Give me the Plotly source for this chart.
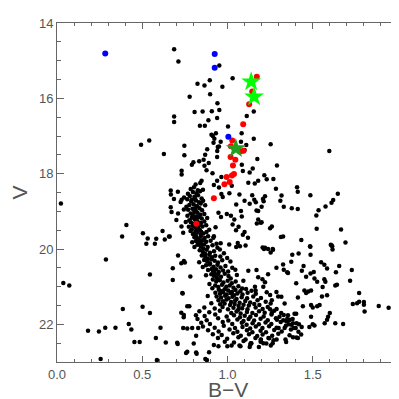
import plotly.graph_objects as go

# upper / scattered stars (giant branch region and field)
upper = [(0.687, 14.70), (0.712, 15.02), (0.952, 15.13), (1.03, 15.47), (0.896, 15.52), (0.824, 15.61),
         (0.865, 15.66), (0.97, 15.69), (0.898, 15.89), (0.778, 15.96), (0.941, 16.13), (1.113, 16.47),
         (1.154, 16.35), (0.854, 16.35), (0.908, 16.34), (0.952, 16.31), (0.807, 16.36), (0.687, 16.48),
         (0.687, 16.63), (0.888, 16.58), (0.939, 16.52), (0.838, 16.73), (0.867, 16.73), (1.003, 16.75),
         (0.932, 16.93), (0.906, 16.97), (0.914, 17.0), (1.154, 17.07), (1.079, 17.15), (0.923, 17.07),
         (0.541, 17.12), (0.493, 17.23), (1.253, 17.22), (0.747, 17.26), (0.881, 17.35), (0.918, 17.18),
         (0.943, 17.29), (0.627, 17.48), (0.747, 17.51), (0.939, 17.56), (0.869, 17.50), (1.597, 17.40),
         (1.175, 17.61), (0.834, 17.67), (0.791, 17.76), (0.865, 17.79), (0.731, 17.92), (0.731, 18.02),
         (1.148, 17.86), (1.29, 17.78), (1.09, 17.93), (1.216, 18.04), (0.877, 17.91), (0.912, 17.99),
         (1.084, 17.76), (0.848, 18.19), (0.939, 18.19), (1.16, 18.26), (1.269, 18.14), (0.964, 18.09),
         (0.813, 18.29), (1.408, 18.36), (1.412, 18.48), (1.284, 18.40), (1.486, 18.57), (1.647, 18.53),
         (1.317, 18.58), (0.964, 18.54), (1.011, 18.52), (1.145, 18.57), (1.157, 18.69), (1.166, 18.76),
         (1.208, 18.67), (1.212, 18.73), (1.051, 18.82), (0.972, 18.62), (1.62, 18.70), (1.61, 18.77),
         (1.575, 18.87), (1.377, 18.92), (1.412, 18.94), (1.534, 18.97), (1.521, 19.11), (1.18, 18.99),
         (1.079, 18.99), (0.023, 18.79), (0.947, 19.04), (0.996, 19.07), (0.962, 19.15), (1.084, 19.14),
         (1.195, 19.30), (1.172, 19.32), (1.065, 19.41), (1.523, 19.46), (1.666, 19.48), (0.407, 19.36),
         (0.504, 19.58), (0.619, 19.52), (0.382, 19.67), (0.532, 19.72), (0.582, 19.73), (0.632, 19.75),
         (0.661, 19.67), (0.524, 19.86), (0.574, 19.86), (1.313, 19.68), (1.433, 19.76), (1.692, 19.83),
         (1.606, 19.89), (1.614, 19.93), (1.486, 19.94), (1.206, 19.96), (1.214, 20.0), (1.265, 20.0),
         (1.253, 20.09), (1.051, 19.95), (1.106, 19.91),
         (1.083, 16.93), (1.11, 17.24), (1.10, 17.37), (0.96, 17.15), (0.95, 17.28), (0.94, 17.40),
         (0.80, 17.70), (0.86, 17.63), (0.89, 17.72), (0.84, 18.25), (0.95, 18.37), (0.92, 18.30),
         (0.667, 18.45), (0.686, 18.67), (1.122, 18.24), (1.13, 17.97), (1.18, 18.19), (1.23, 18.15),
         (1.025, 18.32), (1.07, 18.55), (1.10, 18.72), (1.13, 18.80), (1.17, 18.98), (1.20, 18.88),
         (1.22, 18.60), (1.31, 18.72), (1.33, 18.88), (1.18, 19.22), (1.20, 19.29), (1.25, 19.45),
         (1.26, 19.40), (1.326, 19.67), (1.02, 19.12), (1.04, 19.22), (1.03, 19.35), (1.05, 19.50),
         (1.10, 19.55), (1.09, 19.62), (1.12, 19.70), (1.06, 19.84), (1.01, 19.88), (0.93, 19.42),
         (0.92, 19.66), (0.96, 19.85), (0.667, 18.89), (0.672, 19.02), (0.71, 19.06), (0.70, 19.23),
         (0.73, 19.40), (0.74, 19.57), (0.657, 19.67), (0.725, 18.75)]

lower = [(0.287, 20.28), (0.71, 20.17), (0.729, 20.38), (0.679, 20.51), (0.679, 20.82), (0.545, 20.68),
         (0.037, 20.90), (0.072, 20.97), (0.782, 20.73), (0.744, 20.32), (0.75, 20.36), (0.735, 21.17),
         (0.764, 21.52), (0.729, 21.69), (0.744, 21.75), (0.386, 21.59), (0.502, 21.53), (0.545, 21.70),
         (0.737, 21.18), (0.776, 21.52), (0.182, 22.17), (0.246, 22.19), (0.283, 22.09), (0.343, 22.09),
         (0.421, 21.99), (0.436, 22.14), (0.454, 22.47), (0.485, 22.47), (0.580, 22.36), (0.607, 22.09),
         (0.638, 22.48), (0.708, 22.52), (0.256, 22.92), (0.586, 22.95), (0.757, 22.76), (0.819, 22.78),
         (0.879, 22.95), (0.892, 22.74), (0.743, 21.81), (0.74, 22.10), (0.764, 22.11), (0.793, 22.10),
         (0.816, 22.30), (0.705, 22.49), (0.802, 22.51), (0.764, 22.73), (0.816, 22.75), (0.87, 22.92),
         (0.92, 22.55), (0.947, 22.58), (0.999, 22.58), (1.07, 22.56), (0.828, 22.10),
         (1.073, 19.93), (1.22, 19.97), (1.238, 20.0), (1.267, 20.02), (1.287, 20.5), (1.33, 20.55),
         (1.35, 20.62), (1.17, 20.56), (1.18, 20.75), (1.122, 20.58), (1.205, 20.8), (1.22, 20.88),
         (1.238, 20.67), (1.161, 21.0), (1.165, 21.1), (1.21, 21.0), (1.23, 21.15), (1.25, 21.22),
         (1.26, 21.36), (1.287, 21.14), (1.297, 21.26), (1.316, 21.27), (1.335, 21.45), (1.25, 21.6),
         (1.26, 21.7), (1.29, 21.88), (1.345, 21.92), (1.335, 22.1), (1.30, 22.1), (1.24, 22.36),
         (1.27, 22.42), (1.265, 22.5), (1.13, 22.6), (1.14, 22.5), (1.195, 22.4), (1.21, 22.5),
         (1.484, 19.93), (1.611, 19.91), (1.616, 20.01), (1.38, 20.15), (1.417, 20.12), (1.487, 20.15),
         (1.374, 20.34), (1.355, 20.64), (1.326, 20.41), (1.549, 20.35), (1.568, 20.42), (1.446, 20.45),
         (1.436, 20.58), (1.461, 20.74), (1.487, 20.65), (1.506, 20.61), (1.51, 20.78), (1.526, 20.87),
         (1.568, 20.80), (1.574, 20.87), (1.584, 20.52), (1.636, 20.62), (1.655, 20.45), (1.642, 20.95),
         (1.632, 20.97), (1.558, 21.01), (1.403, 20.91), (1.451, 21.10), (1.461, 21.17), (1.474, 21.13),
         (1.490, 21.10), (1.413, 21.29), (1.442, 21.52), (1.49, 21.49), (1.50, 21.55), (1.526, 21.52),
         (1.54, 21.49), (1.554, 21.26), (1.584, 21.23), (1.719, 20.84), (1.729, 20.56), (1.772, 21.17),
         (1.76, 21.44), (1.772, 21.40), (1.80, 21.41), (1.80, 21.48), (1.735, 21.46), (1.804, 21.66),
         (1.887, 21.51), (1.945, 21.56), (1.393, 21.72), (1.403, 21.72), (1.33, 21.75), (1.35, 21.86),
         (1.36, 21.89), (1.365, 21.88), (1.384, 21.97), (1.419, 22.0), (1.40, 22.1), (1.375, 22.01),
         (1.49, 21.8), (1.50, 22.0), (1.51, 22.03), (1.57, 21.97), (1.584, 21.88), (1.60, 21.7),
         (1.59, 21.8), (1.632, 21.97), (1.678, 21.99), (1.48, 22.07), (1.432, 22.27), (1.413, 22.36),
         (1.384, 22.34), (1.34, 22.4)]

# dense main sequence / turnoff
ms = [(0.803, 18.36), (0.826, 18.44), (0.784, 18.41), (0.797, 18.49), (0.818, 18.52), (0.839, 18.47),
      (0.768, 18.53), (0.856, 18.43), (0.709, 18.48),
      (0.779, 18.59), (0.806, 18.61), (0.827, 18.57), (0.848, 18.66), (0.791, 18.69), (0.668, 18.55),
      (0.745, 18.63), (0.787, 18.74), (0.815, 18.71), (0.833, 18.76), (0.764, 18.68), (0.857, 18.72),
      (0.809, 18.66), (0.731, 18.69),
      (0.776, 18.83), (0.801, 18.81), (0.821, 18.86), (0.843, 18.79), (0.812, 18.91), (0.759, 18.88),
      (0.869, 18.84), (0.769, 18.96), (0.794, 18.93), (0.815, 18.99), (0.836, 18.92), (0.851, 18.97),
      (0.805, 19.02), (0.744, 18.95),
      (0.784, 19.06), (0.797, 19.11), (0.824, 19.04), (0.841, 19.09), (0.816, 19.14), (0.864, 19.07),
      (0.765, 19.12), (0.791, 19.17), (0.809, 19.21), (0.829, 19.16), (0.849, 19.19), (0.776, 19.24),
      (0.881, 19.18), (0.785, 19.29), (0.801, 19.33), (0.824, 19.26), (0.844, 19.31), (0.864, 19.27),
      (0.814, 19.24), (0.755, 19.28),
      (0.795, 19.38), (0.812, 19.42), (0.834, 19.36), (0.853, 19.40), (0.827, 19.45), (0.875, 19.37),
      (0.773, 19.41), (0.791, 19.48), (0.815, 19.52), (0.831, 19.47), (0.846, 19.55), (0.806, 19.58),
      (0.839, 19.50), (0.893, 19.49), (0.798, 19.61), (0.821, 19.57), (0.844, 19.62), (0.859, 19.59),
      (0.815, 19.66), (0.877, 19.55), (0.783, 19.52),
      (0.806, 19.69), (0.826, 19.73), (0.843, 19.67), (0.866, 19.71), (0.835, 19.77), (0.886, 19.66),
      (0.917, 19.70), (0.815, 19.79), (0.831, 19.84), (0.854, 19.77), (0.875, 19.81), (0.846, 19.87),
      (0.901, 19.78), (0.793, 19.82), (0.824, 19.89), (0.843, 19.93), (0.863, 19.88), (0.884, 19.95),
      (0.857, 19.99), (0.912, 19.90), (0.936, 19.86), (0.941, 19.97), (0.806, 19.95),
      (0.837, 20.03), (0.856, 20.08), (0.878, 20.02), (0.897, 20.10), (0.869, 20.13), (0.921, 20.06),
      (0.955, 20.01), (0.979, 20.11), (0.849, 20.17), (0.868, 20.19), (0.893, 20.15), (0.909, 20.22),
      (0.928, 20.18), (0.884, 20.26), (0.958, 20.20), (0.998, 20.24), (0.863, 20.29), (0.881, 20.33),
      (0.904, 20.27), (0.924, 20.31), (0.944, 20.36), (0.897, 20.38), (0.969, 20.30), (0.834, 20.35),
      (1.017, 20.33),
      (0.874, 20.43), (0.896, 20.41), (0.918, 20.47), (0.941, 20.42), (0.959, 20.49), (0.908, 20.53),
      (0.988, 20.45), (1.028, 20.50), (0.855, 20.48), (0.886, 20.56), (0.914, 20.58), (0.933, 20.54),
      (0.949, 20.61), (0.974, 20.57), (0.925, 20.64), (1.004, 20.60), (1.046, 20.55), (0.905, 20.67),
      (0.921, 20.71), (0.944, 20.68), (0.962, 20.74), (0.984, 20.66), (1.006, 20.72), (0.938, 20.77),
      (1.055, 20.69), (0.874, 20.70), (1.019, 20.78),
      (0.914, 20.81), (0.934, 20.86), (0.955, 20.83), (0.976, 20.89), (1.001, 20.84), (1.025, 20.91),
      (1.048, 20.86), (0.894, 20.93), (1.093, 20.84), (0.928, 20.97), (0.946, 21.01), (0.968, 20.95),
      (0.993, 21.00), (1.013, 20.97), (1.035, 21.03), (1.064, 20.99), (1.086, 21.05), (0.911, 21.04),
      (0.949, 21.08), (0.965, 21.12), (0.983, 21.07), (1.004, 21.10), (1.026, 21.14), (1.047, 21.09),
      (1.075, 21.12), (1.109, 21.06), (1.141, 21.11), (0.929, 21.16), (0.956, 21.19), (0.974, 21.15),
      (0.995, 21.21), (1.018, 21.17), (1.038, 21.23), (1.058, 21.18), (1.088, 21.21), (1.118, 21.16),
      (1.166, 21.19),
      (0.936, 21.26), (0.962, 21.29), (0.986, 21.24), (1.006, 21.31), (1.029, 21.27), (1.053, 21.33),
      (1.083, 21.28), (1.115, 21.31), (1.151, 21.26), (1.196, 21.30), (0.884, 21.25), (0.947, 21.36),
      (0.973, 21.39), (0.994, 21.34), (1.021, 21.41), (1.045, 21.37), (1.071, 21.43), (1.104, 21.38),
      (1.133, 21.42), (1.176, 21.36), (1.224, 21.40), (0.905, 21.44), (0.957, 21.47), (0.983, 21.45),
      (1.015, 21.49), (1.042, 21.46), (1.065, 21.51), (1.094, 21.48), (1.125, 21.50), (1.157, 21.46),
      (1.187, 21.49), (1.253, 21.45),
      (0.864, 21.55), (0.925, 21.58), (0.971, 21.54), (1.003, 21.60), (1.035, 21.56), (1.063, 21.61),
      (1.086, 21.57), (1.117, 21.60), (1.165, 21.55), (1.206, 21.59), (1.236, 21.54), (1.288, 21.59),
      (0.835, 21.65), (0.893, 21.68), (0.955, 21.64), (1.022, 21.70), (1.053, 21.66), (1.077, 21.71),
      (1.114, 21.67), (1.146, 21.70), (1.185, 21.65), (1.218, 21.69), (1.274, 21.64), (1.315, 21.70),
      (0.815, 21.76), (0.866, 21.78), (0.928, 21.74), (0.995, 21.79), (1.038, 21.76), (1.073, 21.81),
      (1.101, 21.77), (1.134, 21.80), (1.167, 21.75), (1.212, 21.79), (1.258, 21.74), (1.305, 21.80),
      (1.355, 21.76),
      (0.824, 21.86), (0.878, 21.89), (0.945, 21.84), (1.005, 21.90), (1.058, 21.87), (1.094, 21.91),
      (1.124, 21.86), (1.156, 21.90), (1.194, 21.85), (1.236, 21.89), (1.284, 21.84), (1.327, 21.89),
      (1.382, 21.86), (0.846, 21.96), (0.897, 21.99), (0.972, 21.94), (1.028, 21.99), (1.084, 21.96),
      (1.112, 22.01), (1.147, 21.97), (1.184, 22.00), (1.223, 21.95), (1.257, 21.99), (1.312, 21.94),
      (1.358, 22.00), (1.405, 21.97), (0.856, 22.06), (0.925, 22.09), (0.978, 22.04), (1.044, 22.10),
      (1.088, 22.07), (1.133, 22.11), (1.166, 22.06), (1.205, 22.10), (1.244, 22.05), (1.288, 22.09),
      (1.342, 22.04), (1.388, 22.10), (1.435, 22.07),
      (0.886, 22.16), (0.948, 22.19), (1.012, 22.14), (1.058, 22.20), (1.114, 22.16), (1.146, 22.21),
      (1.194, 22.17), (1.226, 22.21), (1.274, 22.15), (1.318, 22.19), (1.372, 22.14), (1.416, 22.20),
      (0.914, 22.26), (0.966, 22.28), (1.034, 22.24), (1.078, 22.30), (1.126, 22.26), (1.174, 22.31),
      (1.206, 22.27), (1.262, 22.30), (1.298, 22.25), (1.364, 22.29), (0.944, 22.36), (0.998, 22.38),
      (1.064, 22.34), (1.106, 22.40), (1.164, 22.36), (1.196, 22.41), (1.244, 22.37), (1.288, 22.40),
      (1.404, 22.35), (0.984, 22.46), (1.038, 22.48), (1.094, 22.44), (1.136, 22.50), (1.194, 22.46),
      (1.228, 22.51), (1.344, 22.47), (1.024, 22.56), (1.076, 22.58), (1.134, 22.54), (1.184, 22.60),
      (1.254, 22.56)]

red = [(1.172, 15.43), (1.145, 15.82), (1.127, 16.16), (1.092, 16.69), (1.028, 17.12), (1.02, 17.27),
       (1.075, 17.41), (1.094, 17.39), (1.018, 17.56), (1.046, 17.63), (1.032, 17.78), (1.038, 18.01),
       (1.026, 18.05), (0.995, 18.09), (1.013, 18.22), (0.982, 18.28), (0.92, 18.65), (0.817, 19.33),
       (1.04, 17.34)]
blue = [(0.283, 14.81), (0.925, 14.82), (0.925, 15.19), (1.005, 17.02)]
stars_bright = [(1.139, 15.56), (1.156, 15.96)]
stars_dark = [(1.049, 17.33)]

x_ticks = [0, 0.5, 1.0, 1.5]
x_labels = ['0.0', '0.5', '1.0', '1.5']
y_ticks = [14, 16, 18, 20, 22]

black = upper + lower + ms

fig = go.Figure()


def add(points, color, size, symbol='circle'):
    x, y = zip(*points)
    fig.add_trace(go.Scatter(x=list(x), y=list(y), mode='markers',
                             marker=dict(color=color, size=size, symbol=symbol, line=dict(width=0)),
                             showlegend=False))


add(black, 'black', 4.5)
add(red, '#ff0000', 6)
add(blue, '#0000ff', 6)
add(stars_bright, '#00ff00', 15, 'star')
add(stars_dark, '#1fa01f', 15, 'star')

font = 'Liberation Sans, Arial'
grey = '#555555'
axis_common = dict(showline=True, linecolor='#666666', linewidth=1, mirror='ticks',
                   ticks='inside', tickcolor='#666666', showgrid=False, zeroline=False,
                   tickfont=dict(family=font, size=13, color=grey))

fig.update_xaxes(range=[0, 2], tickvals=x_ticks + [2.0], ticktext=x_labels + [''], ticklen=6,
                 minor=dict(dtick=0.1, ticks='inside', ticklen=3, tickcolor='#666666'),
                 **axis_common)
fig.update_yaxes(range=[23, 14], tickvals=y_ticks, ticklen=7,
                 minor=dict(dtick=0.5, ticks='inside', ticklen=4, tickcolor='#666666'),
                 title=dict(text='V', font=dict(family=font, size=21, color=grey), standoff=8),
                 **axis_common)

# the last x label runs off the right edge, as in the original
fig.add_annotation(x=2.0, xref='x', xanchor='left', xshift=-5, y=0, yref='paper', yshift=-16,
                   text='2.0', showarrow=False, font=dict(family=font, size=13, color=grey))
# x axis title
fig.add_annotation(x=0.5, xref='paper', y=0, yref='paper', yshift=-41, text='B\u2212V',
                   showarrow=False, font=dict(family=font, size=21, color=grey))

fig.update_layout(width=399, height=399, margin=dict(l=47, r=8, t=9, b=45),
                  plot_bgcolor='white', paper_bgcolor='white')

fig.write_html("out.html")
